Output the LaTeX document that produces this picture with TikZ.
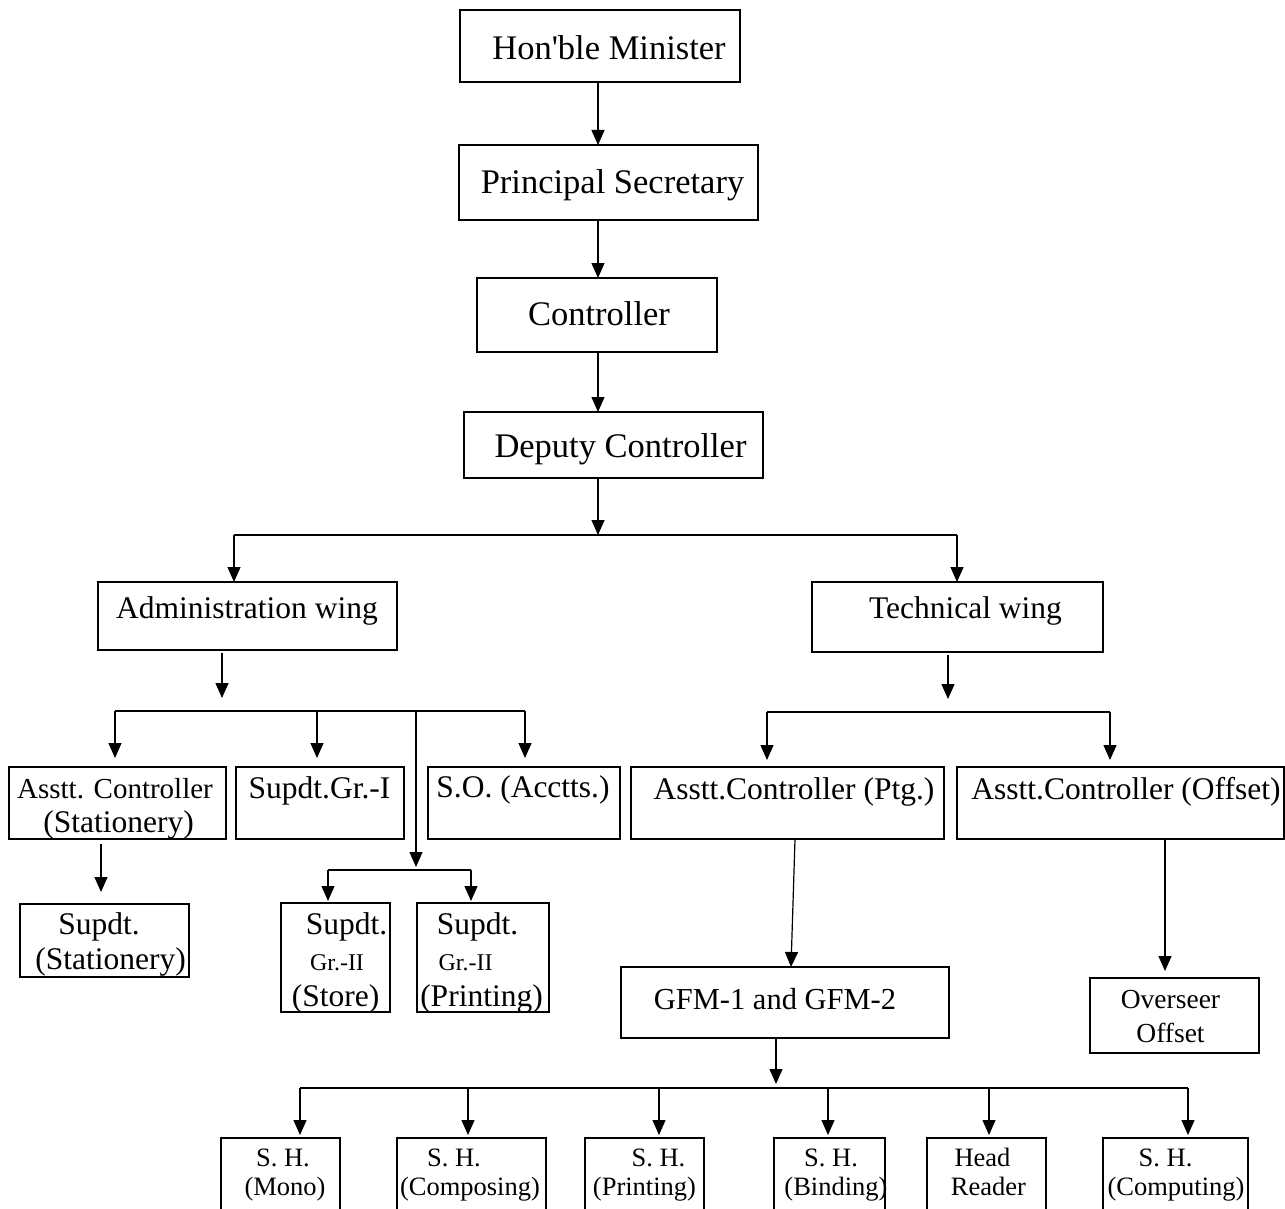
\documentclass[tikz,border=0pt]{standalone}
\usepackage{fontspec}
\setmainfont{Liberation Serif}
\usetikzlibrary{arrows.meta}

\tikzset{
  box/.style={draw, line width=1.5pt, inner sep=0pt, outer sep=0pt},
  lbl/.style={anchor=base, inner sep=0pt, font=\fontsize{31.5}{36}\selectfont},
  lblbig/.style={lbl, font=\fontsize{34.5}{40}\selectfont},
  lblsmall/.style={lbl, font=\fontsize{26.5}{30}\selectfont},
  lbltiny/.style={lbl, font=\fontsize{24}{28}\selectfont},
  arr/.style={draw, line width=1.2pt, -{Triangle[length=15pt,width=13pt]}},
  bus/.style={draw, line width=1.2pt}
}

\begin{document}
\begin{tikzpicture}[x=1pt, y=-1pt]
\useasboundingbox (0,0) rectangle (1285,1209);

% top of the chart
\node[box, minimum width=280, minimum height=72] (minister) at (600,46) {};
\node[lblbig] (minister-t) at (609,60) {Hon\textquotesingle ble Minister};
\node[box, minimum width=299, minimum height=75] (secretary) at (608.5,182.5) {};
\node[lblbig] (secretary-t) at (612.5,194) {Principal Secretary};
\node[box, minimum width=240, minimum height=74] (controller) at (597,315) {};
\node[lblbig] (controller-t) at (599,325) {Controller};
\node[box, minimum width=299, minimum height=66] (deputy) at (613.5,445) {};
\node[lblbig] (deputy-t) at (620.5,457) {Deputy Controller};

\coordinate (spine) at (598,0);
\draw[arr] (minister.south -| spine) -- (secretary.north -| spine);
\draw[arr] (secretary.south -| spine) -- (controller.north -| spine);
\draw[arr] (controller.south -| spine) -- (deputy.north -| spine);

% the two wings
\node[box, minimum width=299, minimum height=68] (admin) at (247.5,616) {};
\node[lbl] (admin-t) at (247,618) {Administration wing};
\node[box, minimum width=291, minimum height=70] (tech) at (957.5,617) {};
\node[lbl] (tech-t) at (965.5,618) {Technical wing};

\coordinate (topbus) at (598,535);
\coordinate (admbus) at (234,535);
\coordinate (tecbus) at (957,535);
\draw[arr] (deputy.south -| topbus) -- (topbus);
\draw[bus] (admbus) -- (tecbus);
\draw[arr] (admbus) -- (admbus |- admin.north);
\draw[arr] (tecbus) -- (tecbus |- tech.north);

% administration wing
\node[box, minimum width=217, minimum height=72] (acstat) at (117.5,803) {};
\node[lbl, font=\fontsize{29}{34}\selectfont] (acstat-t1) at (115,798) {Asstt. Controller};
\node[lbl] (acstat-t2) at (118.5,832) {(Stationery)};
\node[box, minimum width=168, minimum height=72] (supdtone) at (320,803) {};
\node[lbl] (supdtone-t) at (319.5,798) {Supdt.Gr.-I};
\node[box, minimum width=192, minimum height=72] (soacc) at (524,803) {};
\node[lbl] (soacc-t) at (523,797) {S.O. (Acctts.)};
\node[box, minimum width=169, minimum height=73] (supdtstat) at (104.5,940.5) {};
\node[lbl] (supdtstat-t1) at (99,934) {Supdt.};
\node[lbl] (supdtstat-t2) at (110.5,969) {(Stationery)};
\node[box, minimum width=109, minimum height=109] (supdtstore) at (335.5,957.5) {};
\node[lbl] (supdtstore-t1) at (346.5,934) {Supdt.};
\node[lbltiny] (supdtstore-t2) at (337,970) {Gr.-II};
\node[lbl] (supdtstore-t3) at (335.5,1006) {(Store)};
\node[box, minimum width=132, minimum height=109] (supdtprint) at (483,957.5) {};
\node[lbl] (supdtprint-t1) at (477.5,934) {Supdt.};
\node[lbltiny] (supdtprint-t2) at (465.5,970) {Gr.-II};
\node[lbl] (supdtprint-t3) at (481.5,1006) {(Printing)};

\coordinate (admarr) at (222,698);
\coordinate (ab1) at (115,711);
\coordinate (ab2) at (317,711);
\coordinate (ab3) at (416,711);
\coordinate (ab4) at (525,711);
\coordinate (sb) at (416,870);
\coordinate (sb1) at (328,870);
\coordinate (sb2) at (471,870);
\draw[arr] ([yshift=-3pt]admin.south -| admarr) -- (admarr);
\draw[bus] (ab1) -- (ab4);
\draw[arr, shorten >=9pt] (ab1) -- (ab1 |- acstat.north);
\draw[arr, shorten >=9pt] (ab2) -- (ab2 |- supdtone.north);
\draw[arr, shorten >=9pt] (ab4) -- (ab4 |- soacc.north);
\draw[arr, shorten >=3pt] (ab3) -- (sb);
\draw[bus] (sb1) -- (sb2);
\draw[arr, shorten >=2pt] (sb1) -- (sb1 |- supdtstore.north);
\draw[arr, shorten >=2pt] (sb2) -- (sb2 |- supdtprint.north);
\draw[arr, shorten <=5pt, shorten >=12pt] ([xshift=-3.5pt]acstat.south -| supdtstat.north) -- ([xshift=-3.5pt]supdtstat.north);

% technical wing
\node[box, minimum width=313, minimum height=72] (acptg) at (787.5,803) {};
\node[lbl] (acptg-t) at (794,799) {Asstt.Controller (Ptg.)};
\node[box, minimum width=327, minimum height=72] (acoffset) at (1120.5,803) {};
\node[lbl] (acoffset-t) at (1126,799) {Asstt.Controller (Offset)};
\node[box, minimum width=328, minimum height=71] (gfm) at (785,1002.5) {};
\node[lbl, font=\fontsize{30.5}{35}\selectfont] (gfm-t) at (775,1009) {GFM-1 and GFM-2};
\node[box, minimum width=169, minimum height=75] (overseer) at (1174.5,1015.5) {};
\node[lblsmall, font=\fontsize{27.5}{32}\selectfont] (overseer-t1) at (1170.5,1008) {Overseer};
\node[lblsmall, font=\fontsize{27.5}{32}\selectfont] (overseer-t2) at (1170.5,1042) {Offset};

\coordinate (tecarr) at (948,699);
\coordinate (tb1) at (767,712);
\coordinate (tb2) at (1110,712);
\draw[arr] ([yshift=-3pt]tech.south -| tecarr) -- (tecarr);
\draw[bus] (tb1) -- (tb2);
\draw[arr, shorten >=7pt] (tb1) -- (tb1 |- acptg.north);
\draw[arr, shorten >=7pt] (tb2) -- (tb2 |- acoffset.north);
\draw[arr] ([xshift=7.5pt]acptg.south) -- ([xshift=6pt]gfm.north);
\draw[arr, shorten >=7pt] ([xshift=-9.5pt]acoffset.south -| overseer.north) -- ([xshift=-9.5pt]overseer.north);

% section heads
\node[box, minimum width=119, minimum height=82] (shmono) at (280.5,1179) {};
\node[lblsmall] (shmono-t1) at (283,1166) {S. H.};
\node[lblsmall] (shmono-t2) at (285,1195) {(Mono)};
\node[box, minimum width=149, minimum height=82] (shcompo) at (471.5,1179) {};
\node[lblsmall] (shcompo-t1) at (454,1166) {S. H.};
\node[lblsmall] (shcompo-t2) at (470,1195) {(Composing)};
\node[box, minimum width=119, minimum height=82] (shprint) at (644.5,1179) {};
\node[lblsmall] (shprint-t1) at (658.5,1166) {S. H.};
\node[lblsmall] (shprint-t2) at (644.5,1195) {(Printing)};
\node[box, minimum width=111, minimum height=82] (shbind) at (829.5,1179) {};
\node[lblsmall] (shbind-t1) at (831,1166) {S. H.};
\node[lblsmall] (shbind-t2) at (836,1195) {(Binding)};
\node[box, minimum width=119, minimum height=82] (headrd) at (986.5,1179) {};
\node[lblsmall] (headrd-t1) at (982.5,1166) {Head};
\node[lblsmall] (headrd-t2) at (988.5,1195) {Reader};
\node[box, minimum width=145, minimum height=82] (shcomput) at (1175.5,1179) {};
\node[lblsmall] (shcomput-t1) at (1165.5,1166) {S. H.};
\node[lblsmall] (shcomput-t2) at (1176,1195) {(Computing)};

\coordinate (gb) at (776,1088);
\coordinate (gb1) at (300,1088);
\coordinate (gb2) at (1188,1088);
\draw[arr, shorten >=4pt] (gfm.south -| gb) -- (gb);
\draw[bus] (gb1) -- (gb2);
\foreach \n/\x in {shmono/300, shcompo/468, shprint/659, shbind/828, headrd/989, shcomput/1188} {
  \coordinate (\n-in) at (\x,1088);
  \draw[arr, shorten >=3pt] (\n-in) -- (\n-in |- \n.north);
}
\end{tikzpicture}
\end{document}
